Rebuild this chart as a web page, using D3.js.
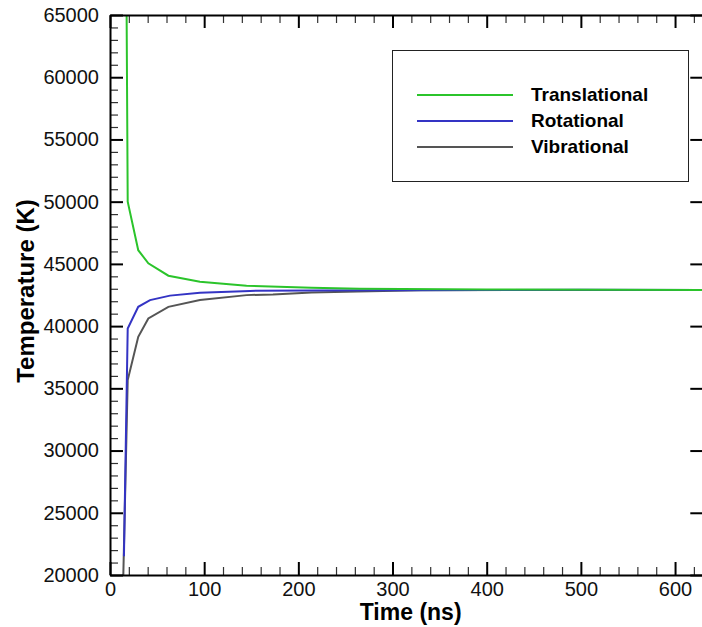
<!DOCTYPE html>
<html>
<head>
<meta charset="utf-8">
<script src="https://cdn.jsdelivr.net/npm/d3@7/dist/d3.min.js"></script>
<style>
  html, body { margin: 0; padding: 0; background: #fff; }
  svg { display: block; font-family: "Liberation Sans", Arial, Helvetica, sans-serif; }
  .axis text { font-size: 20px; fill: #111; }
  .axis .domain { stroke: #000; stroke-width: 2; }
  .axis .tick line { stroke: #000; stroke-width: 2; }
  .minor .tick line { stroke: #333; stroke-width: 1.2; }
  .minor .domain { display: none; }
</style>
</head>
<body>
<svg id="chart" width="702" height="627"></svg>
<script>
// time (ns) / temperature (K)
const transTime = [16.5, 18.8, 30, 40.7, 62, 95.5, 145, 214, 265, 400, 630];
const transTemp = [80000, 50000, 46100, 45050, 44050, 43560, 43250, 43080, 43000, 42950, 42900];

const rotTime = [14.8, 18.8, 30, 42.5, 63.7, 95.5, 148.6, 215, 300, 400, 500, 630];
const rotTemp = [21500, 39800, 41550, 42090, 42450, 42690, 42830, 42870, 42890, 42900, 42920, 42910];

const vibTime = [14, 18.8, 30, 40.7, 62, 95.5, 145, 173, 214, 263, 330, 630];
const vibTemp = [19500, 35660, 39140, 40620, 41550, 42090, 42490, 42550, 42710, 42780, 42890, 42900];

const seriesNames = ['Translational', 'Rotational', 'Vibrational'];
const seriesColors = ['#2bc42b', '#3434c4', '#555555'];

const xTicks = [0, 100, 200, 300, 400, 500, 600];
const yTicks = [20000, 25000, 30000, 35000, 40000, 45000, 50000, 55000, 60000, 65000];

const svg = d3.select('#chart');
const plotL = 110, plotR = 703.3, plotT = 15, plotB = 575;

const x = d3.scaleLinear().domain([0, 630]).range([plotL, plotR]);
const y = d3.scaleLinear().domain([20000, 65000]).range([plotB, plotT]);

svg.append('clipPath').attr('id', 'plotclip')
  .append('rect').attr('x', plotL).attr('y', plotT)
  .attr('width', plotR - plotL).attr('height', plotB - plotT);

// minor ticks first
const xMinor = d3.range(0, 631, 20).filter(v => v % 100 !== 0);
const yMinor = d3.range(20000, 65001, 1000).filter(v => v % 5000 !== 0);

svg.append('g').attr('class', 'axis minor').attr('transform', `translate(0,${plotB})`)
  .call(d3.axisBottom(x).tickValues(xMinor).tickSize(-8).tickFormat(''));
svg.append('g').attr('class', 'axis minor').attr('transform', `translate(0,${plotT})`)
  .call(d3.axisTop(x).tickValues(xMinor).tickSize(-8).tickFormat(''));
svg.append('g').attr('class', 'axis minor').attr('transform', `translate(${plotL},0)`)
  .call(d3.axisLeft(y).tickValues(yMinor).tickSize(-8).tickFormat(''));

// curves
const line = d3.line().x(d => x(d[0])).y(d => y(d[1]));
const seriesData = [
  d3.zip(transTime, transTemp),
  d3.zip(rotTime, rotTemp),
  d3.zip(vibTime, vibTemp)
];
const plot = svg.append('g').attr('clip-path', 'url(#plotclip)');
// vibrational first so rotational / translational sit on top
[2, 1, 0].forEach(i => {
  plot.append('path')
    .attr('d', line(seriesData[i]))
    .attr('fill', 'none')
    .attr('stroke', seriesColors[i])
    .attr('stroke-width', 2);
});

// major axes
svg.append('g').attr('class', 'axis').attr('transform', `translate(0,${plotB})`)
  .call(d3.axisBottom(x).tickValues(xTicks).tickSize(-13).tickSizeOuter(0).tickPadding(7));
svg.append('g').attr('class', 'axis').attr('transform', `translate(0,${plotT})`)
  .call(d3.axisTop(x).tickValues(xTicks).tickSize(-13).tickSizeOuter(0).tickFormat(''));
svg.append('g').attr('class', 'axis').attr('transform', `translate(${plotL},0)`)
  .call(d3.axisLeft(y).tickValues(yTicks).tickSize(-13).tickSizeOuter(0).tickPadding(11).tickFormat(d3.format('d')));
svg.append('g').attr('class', 'axis').attr('transform', `translate(${plotR},0)`)
  .call(d3.axisRight(y).tickValues(yTicks).tickSize(-13).tickSizeOuter(0).tickFormat(''));

// axis titles
svg.append('text')
  .attr('x', (plotL + plotR) / 2 + 4).attr('y', 620)
  .attr('text-anchor', 'middle')
  .style('font-size', '23px').style('font-weight', 'bold')
  .text('Time (ns)');

svg.append('text')
  .attr('transform', `translate(34,${(plotT + plotB) / 2 - 4}) rotate(-90)`)
  .attr('text-anchor', 'middle')
  .style('font-size', '24px').style('font-weight', 'bold')
  .text('Temperature (K)');

// legend
const legend = svg.append('g');
legend.append('rect')
  .attr('x', 392.5).attr('y', 50.5).attr('width', 296).attr('height', 131)
  .attr('fill', '#fff').attr('stroke', '#222').attr('stroke-width', 1);

seriesNames.forEach((name, i) => {
  const ly = 95 + i * 26;
  legend.append('line')
    .attr('x1', 417).attr('x2', 513).attr('y1', ly).attr('y2', ly)
    .attr('stroke', seriesColors[i]).attr('stroke-width', 2);
  legend.append('text')
    .attr('x', 531).attr('y', ly + 6)
    .style('font-size', '19px').style('font-weight', 'bold')
    .text(name);
});
</script>
</body>
</html>
